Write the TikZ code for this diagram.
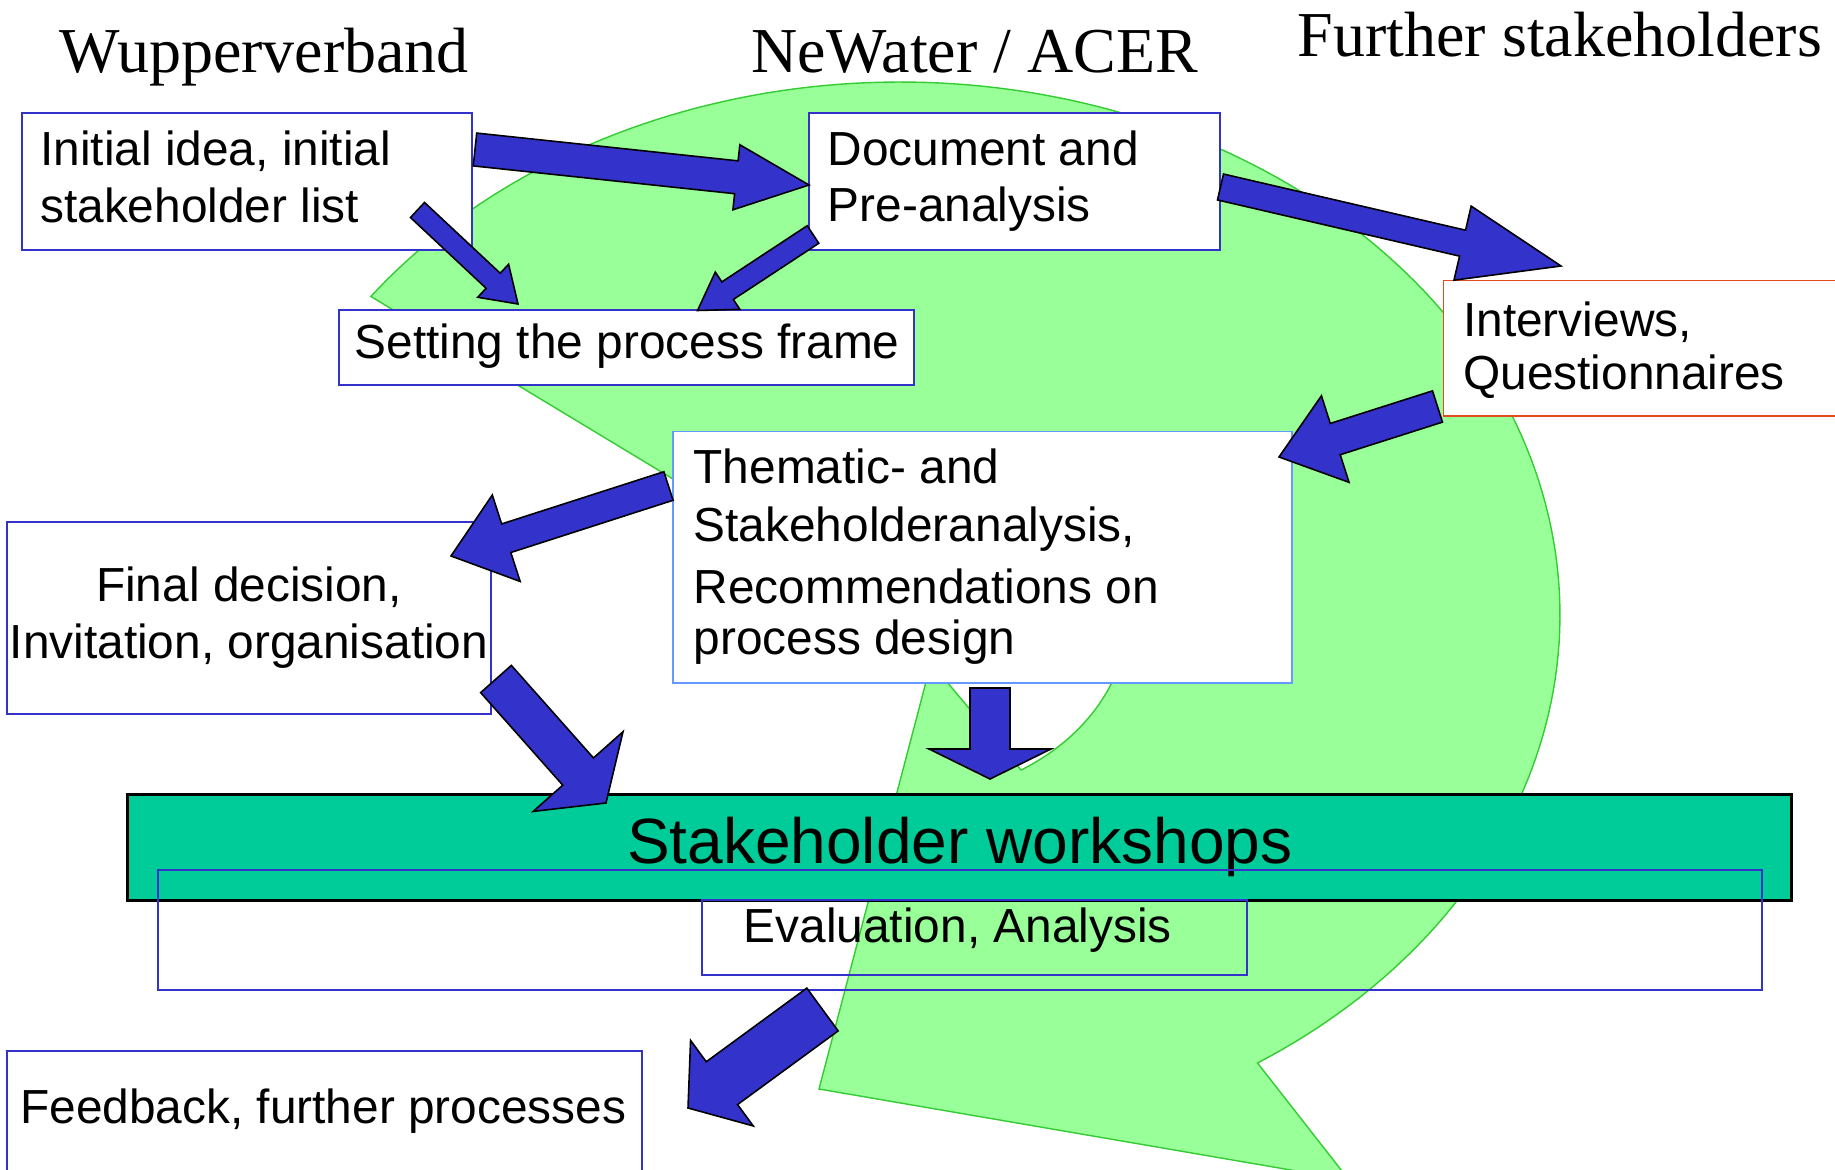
\documentclass[tikz,border=0pt]{standalone}
\usepackage{fontspec}
\setmainfont{Liberation Sans}
\newfontfamily\serifhead{Liberation Serif}
\usetikzlibrary{calc}

\definecolor{boxblue}{RGB}{51,51,204}
\definecolor{lightframe}{RGB}{102,153,255}
\definecolor{redframe}{RGB}{224,76,32}
\definecolor{arrowblue}{RGB}{51,51,204}
\definecolor{ringfill}{RGB}{153,255,153}
\definecolor{ringline}{RGB}{51,204,51}
\definecolor{barfill}{RGB}{0,204,153}

% left- and centre-aligned text blocks whose baseline is the first line
\newcommand{\lft}[1]{\begin{tabular}[t]{@{}l@{}}#1\end{tabular}}
\newcommand{\ctr}[1]{\begin{tabular}[t]{@{}c@{}}#1\end{tabular}}

% block arrow: tail, tip, shaft half-width, head half-width, head length
\newcommand{\blockarrow}[5]{%
  \coordinate (bahead) at ($(#2)!#5!(#1)$);
  \draw[barrow]
    ($(#1)!#3!90:(#2)$) -- ($(bahead)!#3!90:(#2)$) -- ($(bahead)!#4!90:(#2)$)
    -- (#2)
    -- ($(bahead)!#4!-90:(#2)$) -- ($(bahead)!#3!-90:(#2)$) -- ($(#1)!#3!-90:(#2)$)
    -- cycle;
}

\tikzset{
  box/.style={draw=boxblue, line width=0.55pt, fill=white, inner sep=0pt,
    outer sep=0pt, anchor=north west},
  openbox/.style={box, fill=none},
  boxtext/.style={inner sep=0pt, anchor=base west,
    font=\fontsize{13.6}{15.93}\selectfont},
  headtext/.style={inner sep=0pt, anchor=base west,
    font=\serifhead\fontsize{18.2}{21}\selectfont},
  workbar/.style={draw=black, line width=0.85pt, fill=barfill, inner sep=0pt,
    outer sep=0pt, font=\fontsize{18.2}{21}\selectfont},
  barrow/.style={fill=arrowblue, draw=black, line width=0.45pt},
  ring/.style={fill=ringfill, draw=ringline, line width=0.4pt}
}

\begin{document}
\begin{tikzpicture}[x=0.01cm, y=-0.01cm]
\useasboundingbox (0,0) rectangle (1835,1170);
\clip (0,0) rectangle (1835,1170);

% large circular arrow in the background
\draw[ring]
  plot[domain=-143.3:57.2, samples=160, variable=\t]
    ({900+660*cos(\t)},{615+533*sin(\t)})
  -- (1349,1180) -- (819,1089) -- (931,663) -- (1021,770)
  -- plot[domain=57.9:-143.3, samples=120, variable=\t]
    ({900+228*cos(\t)},{615+183*sin(\t)})
  -- cycle;

% process boxes
\node[box, minimum width=45mm, minimum height=13.7mm] (init) at (22,113) {};
\node[box, minimum width=41.1mm, minimum height=13.7mm] (doc) at (809,113) {};
\node[box, minimum width=57.5mm, minimum height=7.5mm] (frame) at (339,310) {};
\node[box, draw=redframe, minimum width=45mm, minimum height=13.55mm] (interviews) at (1443.5,280.5) {};
\node[box, draw=lightframe, minimum width=61.9mm, minimum height=25.15mm] (thematic) at (673,431.5) {};
\node[box, minimum width=48.4mm, minimum height=19.2mm] (final) at (7,522) {};
\node[box, minimum width=63.5mm, minimum height=16mm] (feedback) at (7,1051) {};

\node[workbar, minimum width=166.35mm, minimum height=10.55mm] (workshops)
  at (959.75,847.25) {Stakeholder workshops};
\node[openbox, minimum width=160.35mm, minimum height=12mm] (evalframe) at (158,870) {};
\node[openbox, minimum width=54.45mm, minimum height=7.5mm] (eval) at (702,900) {};

% box texts
\node[boxtext] (initT) at (39.5,166) {\lft{Initial idea, initial\\stakeholder list}};
\node[boxtext] (docT) at (827,165.5) {\lft{Document and\\Pre-analysis}};
\node[boxtext] (frameT) at (354,359) {Setting the process frame};
\node[boxtext, font=\fontsize{13.6}{14.97}\selectfont] (interviewsT) at (1462.5,336.7)
  {\lft{Interviews,\\Questionnaires}};
\node[boxtext, font=\fontsize{13.6}{14.51}\selectfont] (thematicT) at (693,483.3)
  {\lft{Thematic- and\\[1.99pt]Stakeholderanalysis,\\[3.13pt]Recommendations on\\process design}};
\node[boxtext, anchor=base] (finalT) at (249,602) {\ctr{Final decision,\\Invitation, organisation}};
\node[boxtext] (evalT) at (743,942.5) {Evaluation, Analysis};
\node[boxtext] (feedbackT) at (19.6,1123) {Feedback, further processes};

% arrow ends
\coordinate (initToDocS) at (475,149.5);   \coordinate (initToDocE) at (809,185);
\coordinate (initToFrameS) at (417.5,210); \coordinate (initToFrameE) at (518,304);
\coordinate (docToFrameS) at (813,234.5);  \coordinate (docToFrameE) at (697.5,310.5);
\coordinate (docToIntS) at (1220.5,187);   \coordinate (docToIntE) at (1561,266);
\coordinate (intToThemS) at (1437.5,406.5);\coordinate (intToThemE) at (1279,457);
\coordinate (themToFinalS) at (668.5,486); \coordinate (themToFinalE) at (451,556);
\coordinate (finalToBarS) at (496,679);    \coordinate (finalToBarE) at (606,803);
\coordinate (themToBarS) at (990,688);     \coordinate (themToBarE) at (990,779);
\coordinate (evalToFeedS) at (822.5,1009.5); \coordinate (evalToFeedE) at (688,1108);

\blockarrow{initToDocS}{initToDocE}{1.65mm}{3.27mm}{7.3mm}
\blockarrow{initToFrameS}{initToFrameE}{1.03mm}{2.26mm}{3.4mm}
\blockarrow{docToFrameS}{docToFrameE}{1.05mm}{2.23mm}{3.6mm}
\blockarrow{docToIntS}{docToIntE}{1.33mm}{3.8mm}{10.1mm}
\blockarrow{intToThemS}{intToThemE}{1.64mm}{4.54mm}{5.9mm}
\blockarrow{themToFinalS}{themToFinalE}{1.5mm}{4.54mm}{5.8mm}
\blockarrow{finalToBarS}{finalToBarE}{2.05mm}{6mm}{4.2mm}
\blockarrow{themToBarS}{themToBarE}{2mm}{6.1mm}{3mm}
\blockarrow{evalToFeedS}{evalToFeedE}{2.65mm}{5.3mm}{4.2mm}

% column headings
\node[headtext] (hWupper) at (58.5,73) {Wupperverband};
\node[headtext] (hNewater) at (751,72.5) {NeWater / ACER};
\node[headtext] (hFurther) at (1297,57) {Further stakeholders};
\end{tikzpicture}
\end{document}
